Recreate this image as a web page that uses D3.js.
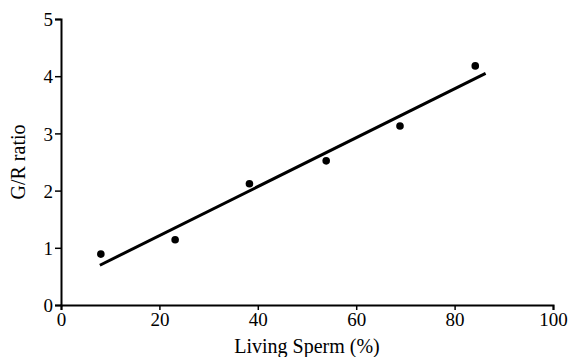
<!DOCTYPE html>
<html>
<head>
<meta charset="utf-8">
<script src="https://cdn.jsdelivr.net/npm/d3@7"></script>
<style>
	body { margin: 0; background: #fff; }
</style>
</head>
<body>
<div class="thegraph"></div>
<script>
// living sperm (%) vs green/red ratio
var livingSperm = [8.1, 23.2, 38.3, 53.9, 68.9, 84.2];
var grRatio = [0.89, 1.14, 2.12, 2.52, 3.13, 4.18];
var xTicks = [0, 20, 40, 60, 80, 100];
var yTicks = [0, 1, 2, 3, 4, 5];
var fitRange = [7.9, 86.3];

var w = 573;
var h = 357;
var margin = { left: 61, right: 20, top: 19, bottom: 52 };
var serif = "'Liberation Serif', 'Times New Roman', serif";

var svg = d3.select(".thegraph").append("svg")
	.attr("width", w)
	.attr("height", h);

var x = d3.scaleLinear().domain([0, 100]).range([margin.left, w - margin.right]);
var y = d3.scaleLinear().domain([0, 5]).range([h - margin.bottom, margin.top]);

// least squares line
var mx = d3.mean(livingSperm), my = d3.mean(grRatio);
var sxy = d3.sum(livingSperm, function(d, i) { return (d - mx) * (grRatio[i] - my); });
var sxx = d3.sum(livingSperm, function(d) { return (d - mx) * (d - mx); });
var slope = sxy / sxx;
var intercept = my - slope * mx;

var xAxis = svg.append("g")
	.attr("transform", "translate(0," + y(0) + ")")
	.call(d3.axisBottom(x).tickValues(xTicks).tickFormat(d3.format("d")).tickSize(5).tickPadding(2));
var yAxis = svg.append("g")
	.attr("transform", "translate(" + x(0) + ",0)")
	.call(d3.axisLeft(y).tickValues(yTicks).tickFormat(d3.format("d")).tickSize(6).tickPadding(2));

[xAxis, yAxis].forEach(function(a) {
	a.select(".domain").attr("stroke", "#000").attr("stroke-width", 2);
	a.selectAll(".tick line").attr("stroke", "#000").attr("stroke-width", 1.5);
	a.selectAll(".tick text")
		.style("font-family", serif)
		.style("font-size", "19px")
		.attr("fill", "#000");
});
xAxis.selectAll(".tick text").attr("dy", "0.75em");
yAxis.selectAll(".tick text").attr("dy", "0.35em");

svg.append("line")
	.attr("x1", x(fitRange[0]))
	.attr("y1", y(intercept + slope * fitRange[0]))
	.attr("x2", x(fitRange[1]))
	.attr("y2", y(intercept + slope * fitRange[1]))
	.attr("stroke", "#000")
	.attr("stroke-width", 3);

svg.selectAll("circle")
	.data(livingSperm)
	.enter()
	.append("circle")
	.attr("cx", function(d) { return x(d); })
	.attr("cy", function(d, i) { return y(grRatio[i]); })
	.attr("r", 3.8)
	.attr("fill", "#000");

svg.append("text")
	.text("Living Sperm (%)")
	.attr("x", (x(0) + x(100)) / 2)
	.attr("y", 353)
	.attr("text-anchor", "middle")
	.style("font-family", serif)
	.style("font-size", "20px");

svg.append("text")
	.text("G/R ratio")
	.attr("transform", "translate(25," + y(2.5) + ") rotate(-90)")
	.attr("text-anchor", "middle")
	.style("font-family", serif)
	.style("font-size", "20px");
</script>
</body>
</html>
